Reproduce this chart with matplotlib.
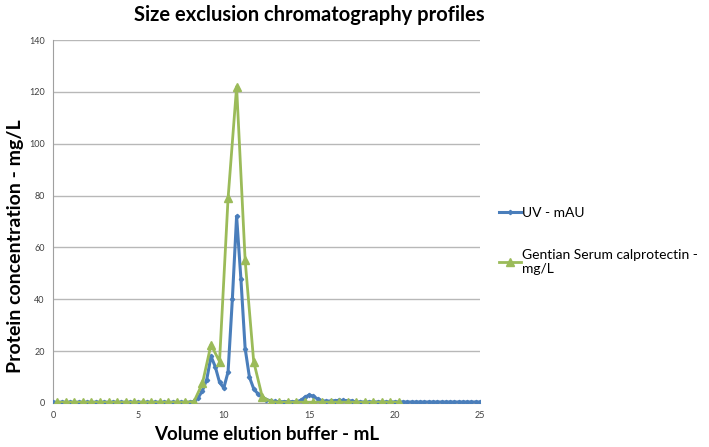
import numpy as np
import matplotlib.pyplot as plt

plt.rcParams['font.family'] = ['Lato', 'DejaVu Sans']

# UV trace, sampled every 0.25 mL from 0 to 25
uv_x = np.arange(0, 25.01, 0.25)
uv_y = [0.3] * 33 + [
    0.6, 2.0, 4.8, 9.0, 18.0, 14.0, 8.0, 5.8, 12.0, 40.0, 72.0, 48.0,
    21.0, 10.0, 5.5, 3.5, 2.2, 1.3, 0.8, 0.6, 0.5, 0.5, 0.5, 0.5, 0.5,
    1.0, 2.2, 3.1, 2.6, 1.5, 0.9, 0.7, 0.8, 0.9, 1.0, 1.0, 0.9, 0.8,
] + [0.4] * 30

# Gentian serum calprotectin, fractions every 0.5 mL
cal_x = np.arange(0.25, 20.26, 0.5)
cal_y = [0.3] * 16 + [
    0.5, 7.6, 22.5, 16.0, 79.0, 122.0, 55.0, 16.0, 2.4, 0.5,
] + [0.3] * 15

blue = '#4A7EBB'
green = '#9BBB59'

fig = plt.figure(figsize=(7.09, 4.47), dpi=100)
ax = fig.add_axes([53 / 709, 1 - 403 / 447, 427 / 709, 363 / 447])

ax.plot(uv_x, uv_y, color=blue, lw=2.2, marker='D', ms=2.2,
        label='UV - mAU', zorder=3)
ax.plot(cal_x, cal_y, color=green, lw=2.0, marker='^', ms=5.5,
        label='Gentian Serum calprotectin -\nmg/L', zorder=4)

ax.set_xlim(0, 25)
ax.set_ylim(0, 140)
ax.set_xticks([0, 5, 10, 15, 20, 25])
ax.set_yticks(range(0, 141, 20))
ax.tick_params(length=0, labelsize=6.5, colors='#404040', pad=6)
ax.grid(axis='y', color='#B8B8B8', lw=1)
ax.set_axisbelow(True)
for s in ['top', 'right']:
    ax.spines[s].set_visible(False)
for s in ['left', 'bottom']:
    ax.spines[s].set_color('#A0A0A0')

ax.set_xlabel('Volume elution buffer - mL', fontsize=13.5, fontweight='bold', labelpad=4)
ax.set_ylabel('Protein concentration - mg/L', fontsize=14, fontweight='bold')
ax.yaxis.set_label_coords(-29 / 427, (403 - 246) / 363)
fig.text(309 / 709, 1 - 15 / 447, 'Size exclusion chromatography profiles', ha='center',
         va='center', fontsize=14.5, fontweight='bold')

ax.legend(loc='upper left', bbox_to_anchor=(493 / 709, 1 - 201 / 447),
          bbox_transform=fig.transFigure, frameon=False, borderaxespad=0,
          fontsize=10, handlelength=1.6, handletextpad=0.1, labelspacing=2.2)

fig.savefig('out.png', dpi=100)
